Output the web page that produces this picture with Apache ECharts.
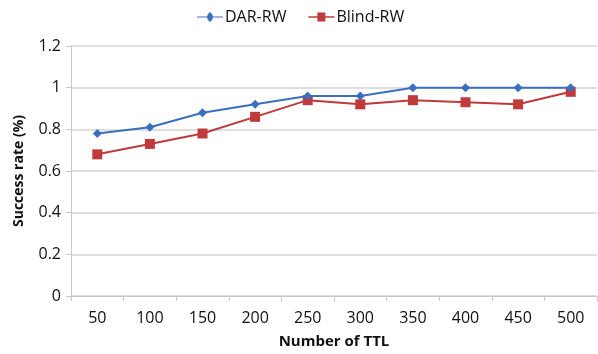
<!DOCTYPE html>
<html>
<head>
<meta charset="utf-8">
<script src="https://cdn.jsdelivr.net/npm/echarts@6/dist/echarts.min.js"></script>
<style>
  html, body { margin: 0; padding: 0; background: #fff; }
  #chart { width: 598px; height: 354px; }
</style>
</head>
<body>
<div id="chart"></div>
<script>
// TTL values on the x axis
const ttlCategories = ['50', '100', '150', '200', '250', '300', '350', '400', '450', '500'];
// Success rate per TTL for each walk strategy
const darRw = [0.78, 0.81, 0.88, 0.92, 0.96, 0.96, 1, 1, 1, 1];
const blindRw = [0.68, 0.73, 0.78, 0.86, 0.94, 0.92, 0.94, 0.93, 0.92, 0.98];
const seriesNames = ['DAR-RW', 'Blind-RW'];

const font = '"Open Sans", "Liberation Sans", sans-serif';
const chart = echarts.init(document.getElementById('chart'), null, { renderer: 'canvas' });

chart.setOption({
  animation: false,
  textStyle: { fontFamily: font },
  legend: {
    top: 4,
    left: 192,
    itemWidth: 26,
    itemHeight: 10,
    itemGap: 22,
    textStyle: { fontSize: 16, color: '#111', fontFamily: font, padding: [0, 0, 0, -3] },
    data: [
      { name: seriesNames[0], icon: 'path://M0,4.5 L10,4.5 L11,2 L13,0 L15,2 L16,4.5 L26,4.5 L26,5.5 L16,5.5 L15,8 L13,10 L11,8 L10,5.5 L0,5.5 Z' },
      { name: seriesNames[1], icon: 'path://M0,4.2 L9,4.2 L9,0.5 L17,0.5 L17,4.2 L26,4.2 L26,5.8 L17,5.8 L17,9.5 L9,9.5 L9,5.8 L0,5.8 Z' }
    ]
  },
  grid: { left: 71, right: 1, top: 46, bottom: 54, containLabel: false },
  xAxis: {
    type: 'category',
    data: ttlCategories,
    boundaryGap: true,
    name: 'Number of TTL',
    nameLocation: 'middle',
    nameGap: 38,
    nameTextStyle: { fontSize: 15, fontWeight: 'bold', color: '#111', fontFamily: font },
    axisLine: { lineStyle: { color: '#c8c8c8', width: 1 } },
    axisTick: { show: true, length: 5, lineStyle: { color: '#c8c8c8' } },
    axisLabel: { fontSize: 16, color: '#111', margin: 14 }
  },
  yAxis: {
    type: 'value',
    min: 0,
    max: 1.2,
    interval: 0.2,
    name: 'Success rate (%)',
    nameLocation: 'middle',
    nameGap: 45,
    nameRotate: 90,
    nameTextStyle: { fontSize: 14, fontWeight: 'bold', color: '#111', fontFamily: font },
    axisLine: { show: true, lineStyle: { color: '#c8c8c8' } },
    axisTick: { show: true, length: 5, lineStyle: { color: '#c8c8c8' } },
    splitLine: { lineStyle: { color: '#d4d4d4', width: 1.5 } },
    axisLabel: {
      fontSize: 16,
      color: '#111',
      margin: 10,
      formatter: v => String(Math.round(v * 10) / 10)
    }
  },
  series: [
    {
      name: seriesNames[0],
      type: 'line',
      data: darRw,
      symbol: 'diamond',
      symbolSize: 9,
      color: '#3a6fbf',
      lineStyle: { width: 2, color: '#3a6fbf' },
      itemStyle: { color: '#3a6fbf' },
      z: 3
    },
    {
      name: seriesNames[1],
      type: 'line',
      data: blindRw,
      symbol: 'rect',
      symbolSize: 10,
      color: '#c0393b',
      lineStyle: { width: 2, color: '#c0393b' },
      itemStyle: { color: '#c0393b' },
      z: 2
    }
  ]
});
</script>
</body>
</html>
